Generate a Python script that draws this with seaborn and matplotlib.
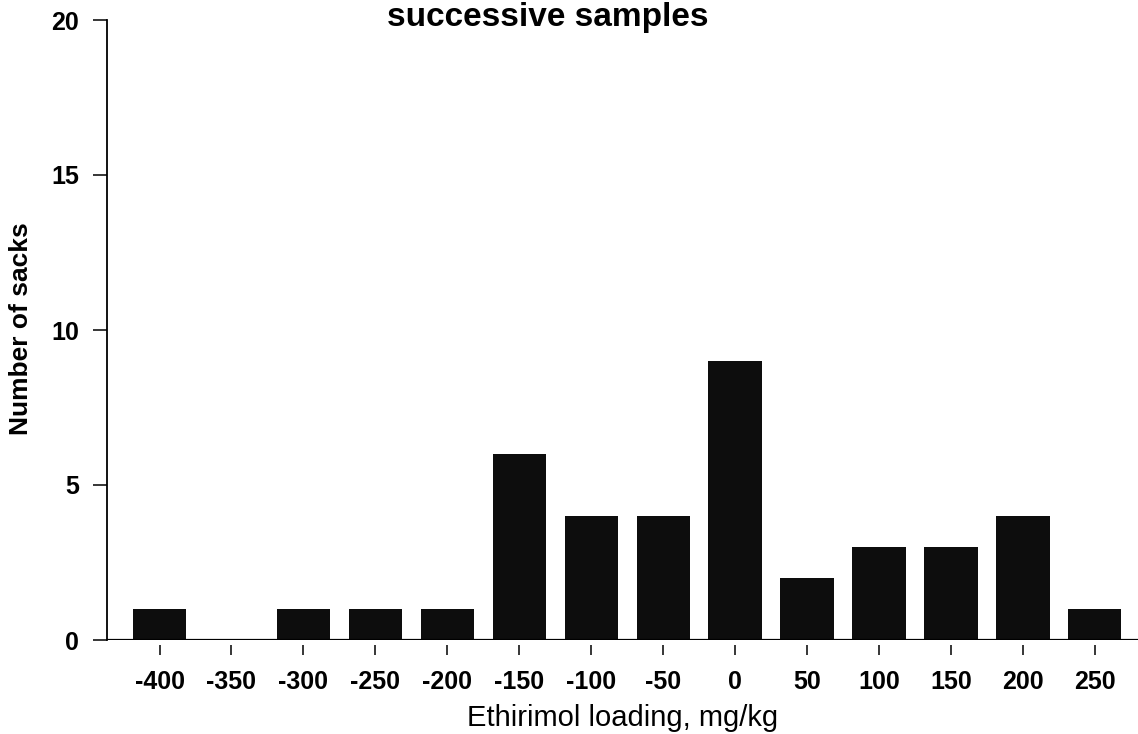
import matplotlib
matplotlib.use("Agg")
import matplotlib.pyplot as plt
import seaborn as sns
import pandas as pd

# Histogram of ethirimol loading per sack
loading_labels = ["-400", "-350", "-300", "-250", "-200", "-150", "-100",
                  "-50", "0", "50", "100", "150", "200", "250"]
sack_counts = [1, 0, 1, 1, 1, 6, 4, 4, 9, 2, 3, 3, 4, 1]
y_ticks = [0, 5, 10, 15, 20]

title_text = "successive samples"
x_label = "Ethirimol loading, mg/kg"
y_label = "Number of sacks"

sns.set_theme(style="white")
plt.rcParams["font.family"] = ["Liberation Sans", "DejaVu Sans"]

df = pd.DataFrame({"loading": loading_labels, "count": sack_counts})

W, H = 1138, 734
PX = 72 / 100  # points per pixel at 100 dpi
fig = plt.figure(figsize=(W / 100, H / 100), dpi=100)
ax_left, ax_right, ax_top, ax_bottom = 107, 1138, 20, 640
ax = fig.add_axes([ax_left / W, 1 - ax_bottom / H,
                   (ax_right - ax_left) / W, (ax_bottom - ax_top) / H])

sns.barplot(data=df, x="loading", y="count", order=loading_labels,
            color="#0d0d0d", width=0.74, saturation=1, ax=ax)
for p in ax.patches:
    p.set_edgecolor("none")

ax.set_ylim(0, 20)
ax.set_xlim(-0.73, 13.6)
ax.set_yticks(y_ticks)
ax.set_yticklabels([str(v) for v in y_ticks])

# Baseline drawn on its own; tick marks hang a little below it
ax.axhline(0, color="black", lw=1.6, zorder=5)
for side in ["top", "right"]:
    ax.spines[side].set_visible(False)
ax.spines["bottom"].set_position(("outward", 5 * PX))
ax.spines["bottom"].set_visible(False)
ax.spines["left"].set_color("black")
ax.spines["left"].set_linewidth(1.3)

ax.tick_params(axis="x", direction="out", length=10 * PX, width=1.1,
               color="black", pad=15 * PX, labelsize=18, bottom=True)
ax.tick_params(axis="y", direction="out", length=14 * PX, width=1.1,
               color="black", pad=14 * PX, labelsize=18, left=True)
for lab in ax.get_xticklabels() + ax.get_yticklabels():
    lab.set_fontweight("bold")
    lab.set_color("black")

ax.set_xlabel(x_label, fontsize=21, color="black", va="baseline")
ax.xaxis.set_label_coords((623 - ax_left) / (ax_right - ax_left),
                          (ax_bottom - 726) / (ax_bottom - ax_top))
ax.set_ylabel(y_label, fontsize=19, fontweight="bold", color="black")
ax.yaxis.set_label_coords((33 - ax_left) / (ax_right - ax_left),
                          (ax_bottom - 329) / (ax_bottom - ax_top))

fig.text(548 / W, 1 - 26 / H, title_text, ha="center", va="baseline",
         fontsize=24, fontweight="bold", color="black")

fig.savefig("out.png", dpi=100)
